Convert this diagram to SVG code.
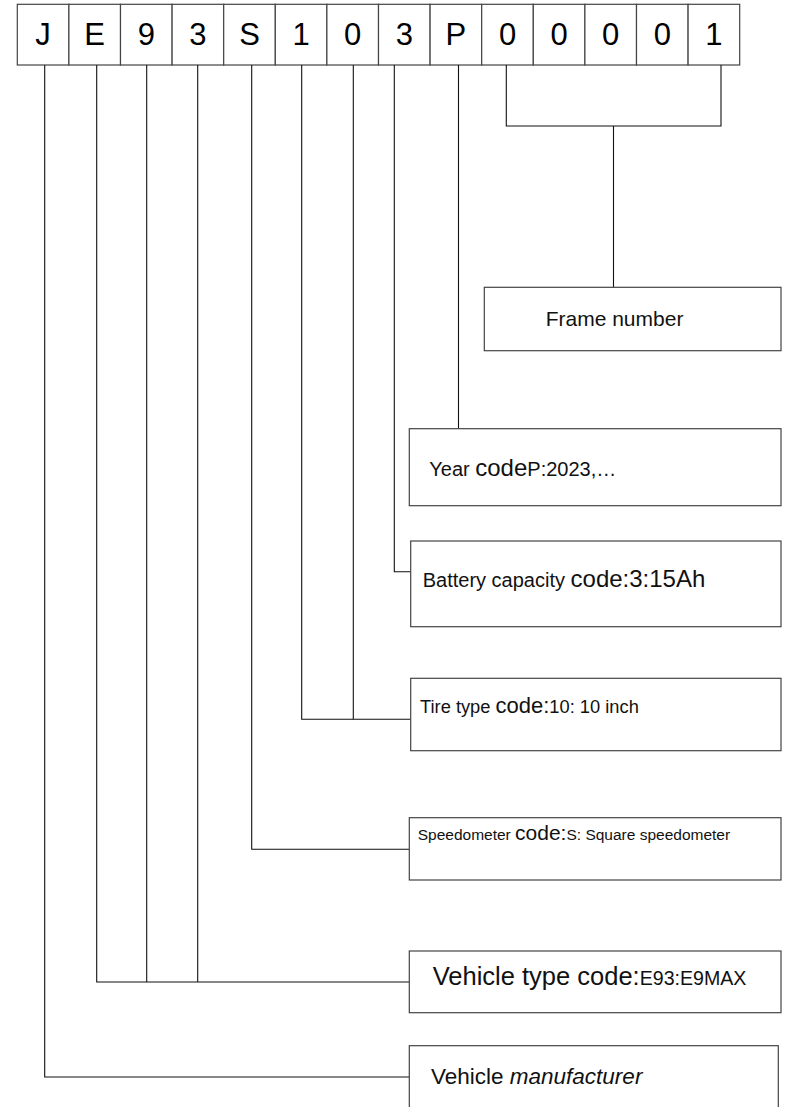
<svg xmlns="http://www.w3.org/2000/svg" width="788" height="1107" viewBox="0 0 788 1107">
<style>
.cell{fill:#fff;stroke:#444;stroke-width:1.2}
.box{fill:#fff;stroke:#444;stroke-width:1.2}
.ch{font-family:"Liberation Sans",Arial,sans-serif;font-size:31px;fill:#000;text-anchor:middle}
.t{font-family:"Liberation Sans",Arial,sans-serif;fill:#111}
.ln{fill:none;stroke:#111;stroke-width:1.1}
</style>
<rect width="788" height="1107" fill="#fff"/>
<g id="code-row">
<rect class="cell" x="17.3" y="4.3" width="51.6" height="60.7"/>
<rect class="cell" x="68.9" y="4.3" width="51.6" height="60.7"/>
<rect class="cell" x="120.5" y="4.3" width="51.6" height="60.7"/>
<rect class="cell" x="172.1" y="4.3" width="51.6" height="60.7"/>
<rect class="cell" x="223.7" y="4.3" width="51.6" height="60.7"/>
<rect class="cell" x="275.3" y="4.3" width="51.6" height="60.7"/>
<rect class="cell" x="326.9" y="4.3" width="51.6" height="60.7"/>
<rect class="cell" x="378.5" y="4.3" width="51.6" height="60.7"/>
<rect class="cell" x="430.1" y="4.3" width="51.6" height="60.7"/>
<rect class="cell" x="481.7" y="4.3" width="51.6" height="60.7"/>
<rect class="cell" x="533.3" y="4.3" width="51.6" height="60.7"/>
<rect class="cell" x="584.9" y="4.3" width="51.6" height="60.7"/>
<rect class="cell" x="636.5" y="4.3" width="51.6" height="60.7"/>
<rect class="cell" x="688.1" y="4.3" width="51.6" height="60.7"/>
<text class="ch" x="43.1" y="45">J</text>
<text class="ch" x="94.7" y="45">E</text>
<text class="ch" x="146.3" y="45">9</text>
<text class="ch" x="197.9" y="45">3</text>
<text class="ch" x="249.5" y="45">S</text>
<text class="ch" x="301.1" y="45">1</text>
<text class="ch" x="352.7" y="45">0</text>
<text class="ch" x="404.3" y="45">3</text>
<text class="ch" x="455.9" y="45">P</text>
<text class="ch" x="507.5" y="45">0</text>
<text class="ch" x="559.1" y="45">0</text>
<text class="ch" x="610.7" y="45">0</text>
<text class="ch" x="662.3" y="45">0</text>
<text class="ch" x="713.9" y="45">1</text>
</g>
<g id="connectors">
<polyline class="ln" points="44.7,65 44.7,1077 409.3,1077"/>
<polyline class="ln" points="96.7,65 96.7,982 409.3,982"/>
<line class="ln" x1="146.7" y1="65" x2="146.7" y2="982"/>
<line class="ln" x1="197.7" y1="65" x2="197.7" y2="982"/>
<polyline class="ln" points="251.7,65 251.7,849.3 409.3,849.3"/>
<polyline class="ln" points="301.7,65 301.7,719.3 410.7,719.3"/>
<line class="ln" x1="353.3" y1="65" x2="353.3" y2="719.3"/>
<polyline class="ln" points="394.3,65 394.3,571.7 410.7,571.7"/>
<line class="ln" x1="458.5" y1="65" x2="458.5" y2="428.7"/>
<polyline class="ln" points="506.3,65 506.3,126 721,126 721,65"/>
<line class="ln" x1="613.5" y1="126" x2="613.5" y2="287.3"/>
</g>
<g id="frame-number">
<rect class="box" x="484.3" y="287.3" width="296.7" height="63.4"/>
<text class="t" x="545.7" y="326" font-size="21">Frame number</text>
</g>
<g id="year-code">
<rect class="box" x="409.3" y="428.7" width="371.7" height="77"/>
<text class="t" x="429.3" y="476" font-size="20">Year <tspan font-size="24">code</tspan>P:2023,…</text>
</g>
<g id="battery-code">
<rect class="box" x="410.7" y="541" width="370.3" height="85.7"/>
<text class="t" x="422.7" y="587.3" font-size="20">Battery capacity <tspan font-size="24">code:3:15Ah</tspan></text>
</g>
<g id="tire-code">
<rect class="box" x="410.7" y="678.3" width="370.3" height="72.4"/>
<text class="t" x="420" y="712.7" font-size="18.3">Tire type <tspan font-size="22">code:</tspan>10: 10 inch</text>
</g>
<g id="speedometer-code">
<rect class="box" x="409.3" y="817.7" width="371.7" height="62.3"/>
<text class="t" x="417.7" y="840" font-size="15.5">Speedometer <tspan font-size="21">code:</tspan>S: Square speedometer</text>
</g>
<g id="vehicle-type">
<rect class="box" x="409.3" y="951" width="371.7" height="61.7"/>
<text class="t" x="432.7" y="985" font-size="25.5">Vehicle type code:<tspan font-size="19.6">E93:E9MAX</tspan></text>
</g>
<g id="manufacturer">
<rect class="box" x="409.3" y="1045.7" width="369" height="70"/>
<text class="t" x="431" y="1084" font-size="22.5">Vehicle <tspan font-style="italic">manufacturer</tspan></text>
</g>
</svg>
